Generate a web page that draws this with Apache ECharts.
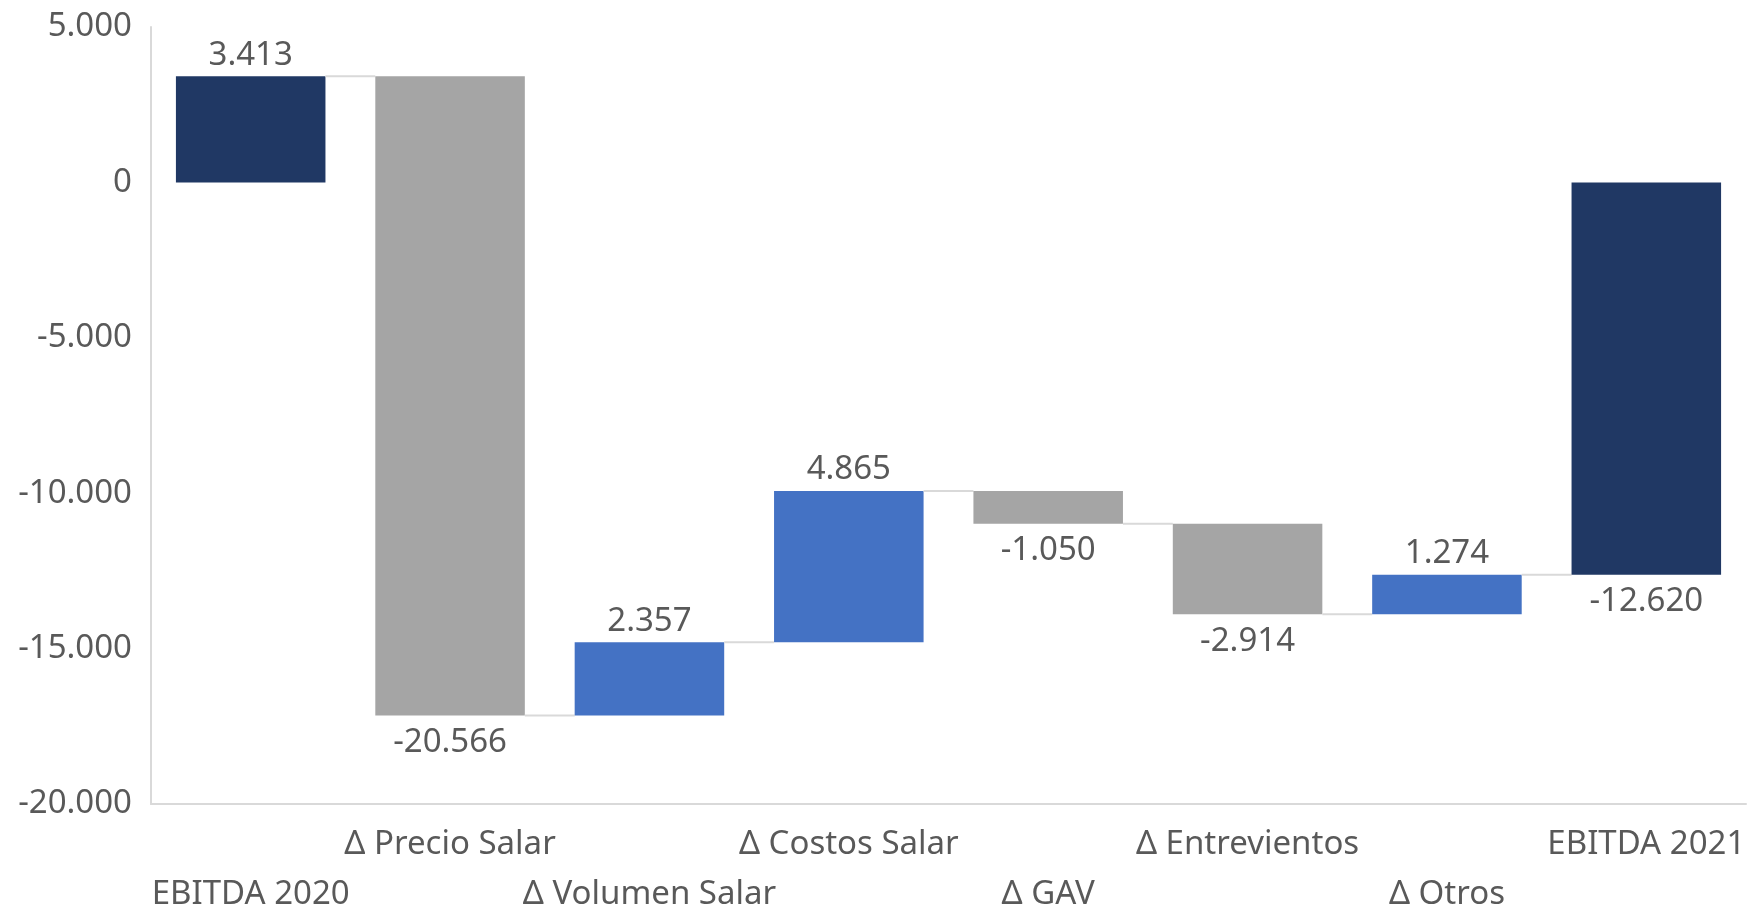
<!DOCTYPE html>
<html>
<head>
<meta charset="utf-8">
<script src="https://cdn.jsdelivr.net/npm/echarts@6/dist/echarts.min.js"></script>
<style>
  html, body { margin: 0; padding: 0; background: #ffffff; overflow: hidden; }
  #chart { width: 1749px; height: 910px; }
</style>
</head>
<body>
<div id="chart"></div>
<script>
// EBITDA bridge 2020 -> 2021
const categories = ['EBITDA 2020', 'Δ Precio Salar', 'Δ Volumen Salar', 'Δ Costos Salar', 'Δ GAV', 'Δ Entrevientos', 'Δ Otros', 'EBITDA 2021'];
const values = [3413, -20566, 2357, 4865, -1050, -2914, 1274, -12620];
const isTotal = [true, false, false, false, false, false, false, true];
const yTicks = { min: -20000, max: 5000, interval: 5000 };

const COLOR_TOTAL = '#203864';
const COLOR_UP = '#4472C4';
const COLOR_DOWN = '#A5A5A5';
const TEXT = '#595959';
const FONT = '"Noto Sans", "Liberation Sans", sans-serif';
const FONT_SIZE = 33;

function fmt(n) {
  const s = Math.abs(Math.round(n)).toString().replace(/\B(?=(\d{3})+(?!\d))/g, '.');
  return (n < 0 ? '-' : '') + s;
}

// floating segments: [index, start, end, value, total?]
const segs = [];
let running = 0;
values.forEach((v, i) => {
  let start, end;
  if (isTotal[i]) { start = 0; end = v; running = v; }
  else { start = running; end = running + v; running = end; }
  segs.push([i, start, end, v, isTotal[i] ? 1 : 0]);
});

const chart = echarts.init(document.getElementById('chart'), null, { renderer: 'canvas' });

chart.setOption({
  animation: false,
  backgroundColor: '#ffffff',
  grid: { left: 151, right: 3, top: 27, bottom: 106, containLabel: false, outerBoundsMode: 'none' },
  xAxis: {
    type: 'category',
    data: categories,
    axisLine: { show: true, onZero: false, lineStyle: { color: '#D9D9D9', width: 2 } },
    axisTick: { show: false },
    splitLine: { show: false },
    axisLabel: {
      interval: 0,
      margin: 16,
      color: TEXT,
      fontFamily: FONT,
      fontSize: FONT_SIZE,
      lineHeight: 50,
      // alternate categories drop to a second row
      formatter: (val, idx) => (idx % 2 === 0 ? '\n' + val : val)
    }
  },
  yAxis: {
    type: 'value',
    min: yTicks.min,
    max: yTicks.max,
    interval: yTicks.interval,
    axisLine: { show: true, lineStyle: { color: '#D9D9D9', width: 2 } },
    axisTick: { show: false },
    splitLine: { show: false },
    axisLabel: {
      margin: 19,
      color: TEXT,
      fontFamily: FONT,
      fontSize: FONT_SIZE,
      formatter: fmt
    }
  },
  series: [{
    type: 'custom',
    data: segs,
    encode: { x: 0, y: [1, 2] },
    renderItem: (params, api) => {
      const i = api.value(0);
      const s = api.value(1);
      const e = api.value(2);
      const v = api.value(3);
      const total = api.value(4) === 1;
      const bw = api.size([1, 0])[0] * 0.75;
      const pTop = api.coord([i, Math.max(s, e)]);
      const pBot = api.coord([i, Math.min(s, e)]);
      const x = pTop[0] - bw / 2;
      const color = total ? COLOR_TOTAL : (v >= 0 ? COLOR_UP : COLOR_DOWN);
      const children = [{
        type: 'rect',
        shape: { x: x, y: pTop[1], width: bw, height: pBot[1] - pTop[1] },
        style: { fill: color }
      }];
      // connector to the next bar at the running level
      if (i < categories.length - 1) {
        const pEnd = api.coord([i, e]);
        const pNext = api.coord([i + 1, e]);
        children.push({
          type: 'line',
          shape: { x1: pTop[0] + bw / 2, y1: pEnd[1], x2: pNext[0] - bw / 2, y2: pEnd[1] },
          style: { stroke: '#D9D9D9', lineWidth: 2 }
        });
      }
      const above = v >= 0;
      children.push({
        type: 'text',
        style: {
          text: fmt(v),
          x: pTop[0],
          y: above ? pTop[1] - 21 : pBot[1] + 27,
          align: 'center',
          verticalAlign: 'middle',
          fill: TEXT,
          font: FONT_SIZE + 'px ' + FONT
        }
      });
      return { type: 'group', children: children };
    }
  }]
});
</script>
</body>
</html>
